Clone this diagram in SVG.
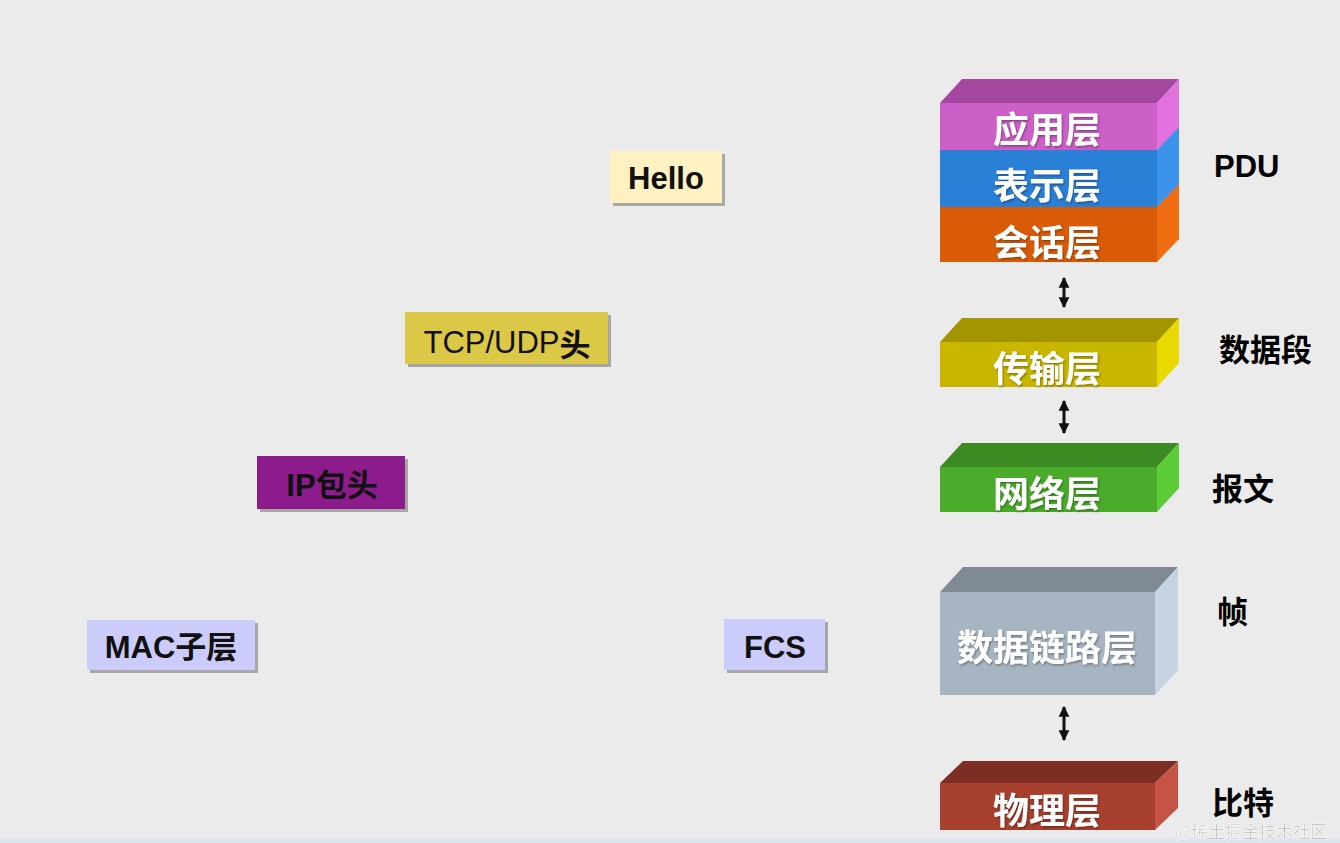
<svg xmlns="http://www.w3.org/2000/svg" width="1340" height="843" viewBox="0 0 1340 843">
<defs>
<style>
.lt{font-family:"Noto Sans CJK SC","Liberation Sans",sans-serif;font-weight:700;font-size:36px;fill:#ffffff;text-anchor:middle;dominant-baseline:central}
.lab{font-family:"Liberation Sans","Noto Sans CJK SC",sans-serif;font-weight:700;font-size:31px;fill:#000;dominant-baseline:central}
.bx{font-family:"Liberation Sans","Noto Sans CJK SC",sans-serif;font-weight:700;font-size:31px;fill:#111;text-anchor:middle;dominant-baseline:central}
.sh{fill:#8a8a8a;opacity:0.7}
.conn{stroke:#111;stroke-width:3;fill:none;marker-start:url(#ah);marker-end:url(#ah)}
</style>
<marker id="ah" viewBox="0 0 10 10" refX="9" refY="5" markerWidth="3.6" markerHeight="3.8" orient="auto-start-reverse" markerUnits="strokeWidth">
<path d="M0,0 L10,5 L0,10 z" fill="#111"/>
</marker>
<filter id="ts" x="-10%" y="-10%" width="120%" height="130%">
<feDropShadow dx="1" dy="1.5" stdDeviation="0.8" flood-color="#000" flood-opacity="0.35"/>
</filter>
</defs>
<rect width="1340" height="843" fill="#ebebeb"/>
<rect y="838" width="1340" height="5" fill="#dde4ee"/>

<!-- left boxes -->
<g id="hello">
<rect x="613" y="154" width="112" height="52" class="sh"/>
<rect x="610" y="151" width="112" height="52" fill="#fff1c2"/>
<text x="666" y="178" class="bx">Hello</text>
</g>
<g id="tcpudp">
<rect x="408" y="315" width="203" height="52" class="sh"/>
<rect x="405" y="312" width="203" height="52" fill="#dcc847"/>
<text x="507" y="342" class="bx" font-size="28.5"><tspan font-weight="400">TCP/UDP</tspan><tspan font-family="Noto Sans CJK SC" font-weight="700">头</tspan></text>
</g>
<g id="ip">
<rect x="260" y="459" width="148" height="53" class="sh"/>
<rect x="257" y="456" width="148" height="53" fill="#8c1b8c"/>
<text x="332" y="485" class="bx" fill="#1a0a1a">IP包头</text>
</g>
<g id="mac">
<rect x="90" y="623" width="168" height="50" class="sh"/>
<rect x="87" y="620" width="168" height="50" fill="#ccccfa"/>
<text x="171" y="647" class="bx">MAC子层</text>
</g>
<g id="fcs">
<rect x="727" y="622" width="101" height="51" class="sh"/>
<rect x="724" y="619" width="101" height="51" fill="#ccccfa"/>
<text x="775" y="647" class="bx">FCS</text>
</g>

<!-- layer stack -->
<g id="session">
<polygon points="940,207 1157,207 1179,184 962,184" fill="#b04a05"/>
<polygon points="1157,207 1179,184 1179,239 1157,262" fill="#f06e12"/>
<rect x="940" y="207" width="217" height="55" fill="#d95b08"/>
<text x="1047" y="240" class="lt" filter="url(#ts)">会话层</text>
</g>
<g id="presentation">
<polygon points="940,150 1157,150 1179,127 962,127" fill="#1f5fa8"/>
<polygon points="1157,150 1179,127 1179,184 1157,207" fill="#3a92ea"/>
<rect x="940" y="150" width="217" height="57" fill="#2a7fd6"/>
<text x="1047" y="183" class="lt" filter="url(#ts)">表示层</text>
</g>
<g id="application">
<polygon points="940,103 1157,103 1179,79 962,79" fill="#a3479f"/>
<polygon points="1157,103 1179,79 1179,127 1157,150" fill="#e272e0"/>
<rect x="940" y="103" width="217" height="47" fill="#cc5fc8"/>
<text x="1047" y="127" class="lt" filter="url(#ts)">应用层</text>
</g>
<g id="transport">
<polygon points="940,342 1157,342 1179,318 962,318" fill="#a39400"/>
<polygon points="1157,342 1179,318 1179,363 1157,387" fill="#e8da00"/>
<rect x="940" y="342" width="217" height="45" fill="#c9b600"/>
<text x="1047" y="366" class="lt" filter="url(#ts)">传输层</text>
</g>
<g id="network">
<polygon points="940,467 1157,467 1179,443 962,443" fill="#3b8a22"/>
<polygon points="1157,467 1179,443 1179,488 1157,512" fill="#5ccb38"/>
<rect x="940" y="467" width="217" height="45" fill="#4aab2b"/>
<text x="1047" y="491" class="lt" filter="url(#ts)">网络层</text>
</g>
<g id="datalink">
<polygon points="940,592 1155,592 1178,567 963,567" fill="#7f8a95"/>
<polygon points="1155,592 1178,567 1178,670 1155,695" fill="#c6d3e0"/>
<rect x="940" y="592" width="215" height="103" fill="#a7b5c3"/>
<text x="1047" y="645" class="lt" filter="url(#ts)">数据链路层</text>
</g>
<g id="physical">
<polygon points="940,783 1155,783 1178,761 963,761" fill="#7c2e24"/>
<polygon points="1155,783 1178,761 1178,808 1155,830" fill="#c65444"/>
<rect x="940" y="783" width="215" height="47" fill="#a8402f"/>
<text x="1047" y="808" class="lt" filter="url(#ts)">物理层</text>
</g>

<!-- PDU labels -->
<g id="labels">
<text x="1214" y="166" class="lab">PDU</text>
<text x="1219" y="350" class="lab">数据段</text>
<text x="1212" y="489" class="lab">报文</text>
<text x="1217" y="612" class="lab">帧</text>
<text x="1212" y="803" class="lab">比特</text>
</g>

<g id="connectors">
<line x1="1064" y1="278" x2="1064" y2="307" class="conn"/>
<line x1="1064" y1="401" x2="1064" y2="433" class="conn"/>
<line x1="1064" y1="707" x2="1064" y2="740" class="conn"/>
</g>

<text x="1175" y="830" font-family="Noto Sans CJK SC,sans-serif" font-size="17" fill="#a8a8a8" stroke="#ffffff" stroke-width="0.6" opacity="0.85" dominant-baseline="central">@稀土掘金技术社区</text>
</svg>
